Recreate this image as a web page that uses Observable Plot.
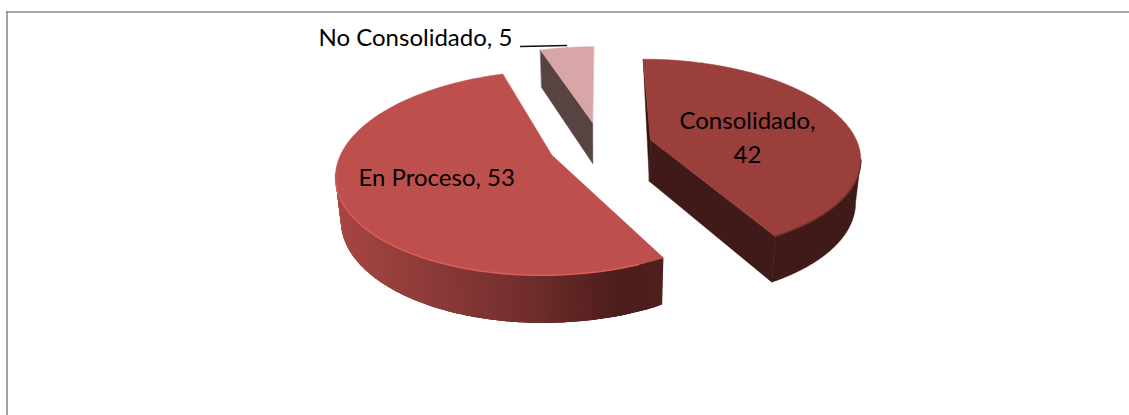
<!DOCTYPE html>
<html><head><meta charset="utf-8">
<script src="https://cdn.jsdelivr.net/npm/d3@7"></script>
<script src="https://cdn.jsdelivr.net/npm/@observablehq/plot@0.6"></script>
<style>html,body{margin:0;padding:0;background:#fff}svg{display:block}</style>
</head><body><div id="c"></div>
<script>
const categories = ["Consolidado", "En Proceso", "No Consolidado"];
const values = [42, 53, 5];
const topColors = ["#9b3f3c", "#bd4f4d", "#d8a6a6"];
const sideColors = ["#401a18", "#4a1c1b", "#574442"];

const W = 1129, H = 415;
const cx = 600, cy = 145, R = 208, K = 0.17, T = 96, DEPTH = 42, EXPLODE = 0.25, START = 0;
const total = d3.sum(values);
const rad = d => d * Math.PI / 180;

function proj(U, V, h = 0) {
  const s = 1 / (1 - K * V);
  return {x: cx + R * U * s * (1 - 0.02 * h), y: cy + T * V * s + h * DEPTH * Math.pow(s, 0.6)};
}
let acc = START;
const slices = values.map((v, i) => {
  const a0 = acc, a1 = acc + v / total * 360; acc = a1;
  const mid = rad((a0 + a1) / 2);
  return {i, name: categories[i], value: v, a0, a1, ox: Math.sin(mid) * EXPLODE, oy: -Math.cos(mid) * EXPLODE};
});
const ptAt = (s, a, r = 1) => ({U: s.ox + r * Math.sin(rad(a)), V: s.oy - r * Math.cos(rad(a))});
const arc = s => d3.range(0, 241).map(j => ptAt(s, s.a0 + (s.a1 - s.a0) * j / 240));
const p3 = (p, h) => proj(p.U, p.V, h);

const polys = [];
let id = 0;
const add = (pts, color) => { const z = id++; pts.forEach(p => polys.push({x: p.x, y: p.y, z, color})); };

const [C, E, N] = slices;
const strips = [];
// No Consolidado: left cut wall, then top
{
  const a = ptAt(N, N.a0), o = ptAt(N, 0, 0);
  add([p3(a,0), p3(o,0), p3(o,1), p3(a,1)], sideColors[2]);
  add([p3(o,0), ...arc(N).map(p => p3(p,0))], topColors[2]);
}
// Consolidado: walls then top
let edgeC;
{
  const o = ptAt(C, 0, 0), a = arc(C);
  const iMax = d3.greatestIndex(a, p => p3(p,0).x);
  const vis = a.slice(iMax);
  add([p3(o,0), p3(a[0],0), p3(o,1)], "#33150f");
  add([p3(o,0), p3(a[240],0), p3(a[240],1), p3(o,1)], sideColors[0]);
  add([...vis.map(p => p3(p,0)), ...vis.slice().reverse().map(p => p3(p,1))], sideColors[0]);
  add([p3(o,0), ...a.map(p => p3(p,0))], topColors[0]);
  edgeC = vis.map(p => p3(p,0));
}
// En Proceso: outer wall as shaded strips, each overlapping the next, then top
{
  const a = arc(E);
  const iMin = d3.leastIndex(a, p => p3(p,0).x);
  const shade = d3.scaleLinear().domain([337, 440, 540, 625, 662]).range(["#a84644", "#8b3a38", "#6f2d2b", "#4c1d1b", "#4f1f1d"]);
  for (let j = iMin - 1; j >= 0; j--) {
    const q0 = p3(a[j],0), q1 = p3(a[j+1],0);
    const part = a.slice(j, Math.min(j + 3, iMin) + 1);
    const z = id++;
    const c = shade((q0.x + q1.x) / 2);
    [...part.map(p => p3(p,0)), ...part.slice().reverse().map(p => p3(p,1))].forEach(p => strips.push({x: p.x, y: p.y, z, color: c}));
  }
}
const topE = [];
{
  const o = ptAt(E, 0, 0), a = arc(E), z = id++;
  [p3(o,0), ...a.map(p => p3(p,0))].forEach(p => topE.push({x: p.x, y: p.y, z, color: topColors[1]}));
}
const highlight = arc(E).map(p => p3(p,0)).filter(p => p.y > 172 && p.x < 640);

const leftLabels = [
  {t: "No Consolidado, 5", x: 318, y: 38},
  {t: "En Proceso, 53", x: 358, y: 178}
];
const midLabels = [
  {t: "Consolidado,", x: 747, y: 121},
  {t: "42", x: 747, y: 155}
];
const textOpts = {x: "x", y: "y", text: "t", fontFamily: "Lato", fontSize: 24, fill: "#000"};

const plot = Plot.plot({
  width: W, height: H, margin: 0,
  x: {domain: [0, W], range: [0, W], axis: null},
  y: {domain: [0, H], range: [0, H], axis: null},
  color: {type: "identity"},
  marks: [
    Plot.ruleY([11.5], {x1: 6, x2: W, stroke: "#8c8c8c", strokeWidth: 1.4}),
    Plot.ruleX([6.5], {y1: 11, y2: H, stroke: "#8c8c8c", strokeWidth: 1.6}),
    Plot.line(polys, {x: "x", y: "y", z: "z", fill: "color", stroke: "color", strokeWidth: 0.5, curve: "linear-closed"}),
    Plot.line(strips, {x: "x", y: "y", z: "z", fill: "color", stroke: "none", curve: "linear-closed"}),
    Plot.line(topE, {x: "x", y: "y", z: "z", fill: "color", stroke: "color", strokeWidth: 0.5, curve: "linear-closed"}),
    Plot.line(edgeC, {x: "x", y: "y", stroke: "#6b3331", strokeWidth: 1.5}),
    Plot.line(highlight, {x: "x", y: "y", stroke: "#d65f5b", strokeWidth: 1.5}),
    Plot.line([{x: 520, y: 46}, {x: 566, y: 45}], {x: "x", y: "y", stroke: "#111", strokeWidth: 1.3}),
    Plot.text(leftLabels, {...textOpts, textAnchor: "start"}),
    Plot.text(midLabels, {...textOpts, textAnchor: "middle"})
  ]
});
document.getElementById("c").append(plot);
</script></body></html>
